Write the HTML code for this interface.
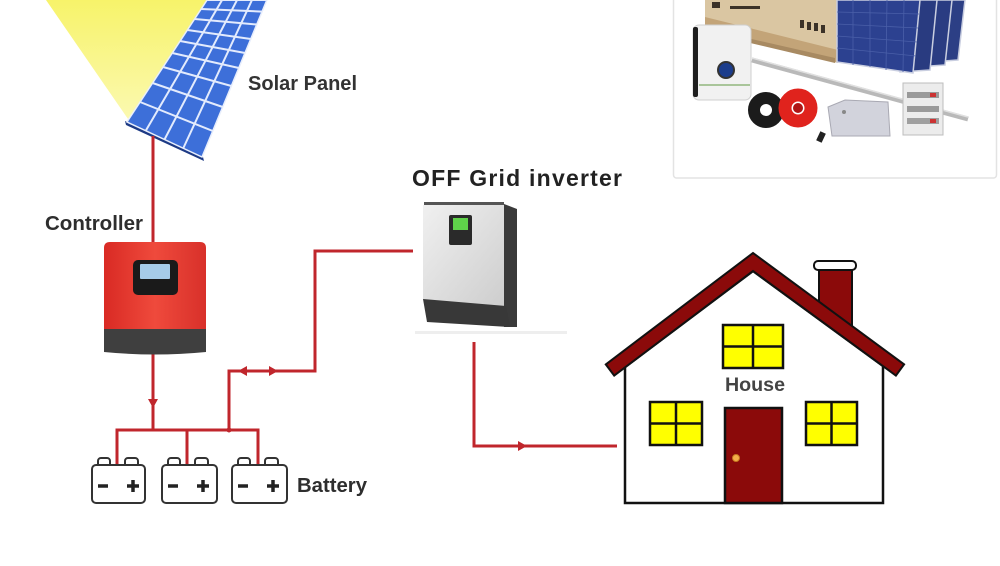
<!DOCTYPE html>
<html>
<head>
<meta charset="utf-8">
<style>
html,body{margin:0;padding:0;background:#fff;}
svg{display:block;}
text{font-family:"Liberation Sans",Arial,sans-serif;font-weight:bold;}
</style>
</head>
<body>
<svg width="1000" height="566" viewBox="0 0 1000 566" xmlns="http://www.w3.org/2000/svg">
<defs>
  <linearGradient id="beam" x1="0" y1="0" x2="0" y2="1">
    <stop offset="0" stop-color="#f7f36a"/>
    <stop offset="1" stop-color="#fbf9b0"/>
  </linearGradient>
  <linearGradient id="ctrl" x1="0" y1="0" x2="1" y2="0">
    <stop offset="0" stop-color="#d92a24"/>
    <stop offset="0.5" stop-color="#ef4a3c"/>
    <stop offset="1" stop-color="#d8302a"/>
  </linearGradient>
  <linearGradient id="inv" x1="0" y1="0" x2="1" y2="1">
    <stop offset="0" stop-color="#f0f0f0"/>
    <stop offset="1" stop-color="#cdcdcd"/>
  </linearGradient>
</defs>

<!-- sun rays -->
<g stroke="#f5ee70" stroke-width="2" opacity="0.8">
  <line x1="50" y1="0" x2="54" y2="6"/>
  <line x1="62" y1="0" x2="64" y2="5"/>
  <line x1="74" y1="0" x2="76" y2="6"/>
  <line x1="86" y1="0" x2="88" y2="4"/>
</g>
<!-- light beam -->
<polygon points="46,0 209,0 128,119" fill="url(#beam)"/>

<!-- solar panel -->
<polygon points="125,121 203,157 204,161 126,125" fill="#1d3a85"/>
<polygon points="127,122 202,157 271,-10 213,-9" fill="#3d6fd9" stroke="#e8eefc" stroke-width="1.5"/>
<g stroke="#e3ebfd" stroke-width="2">
  <line x1="145.75" y1="130.75" x2="227.5" y2="-9.25"/>
  <line x1="164.5" y1="139.5" x2="242" y2="-9.5"/>
  <line x1="183.25" y1="148.25" x2="256.5" y2="-9.75"/>
  <line x1="140.1" y1="102" x2="212.8" y2="131"/>
  <line x1="152.6" y1="83" x2="222.7" y2="107"/>
  <line x1="163.1" y1="67" x2="231.4" y2="86"/>
  <line x1="172.3" y1="53" x2="238.8" y2="68"/>
  <line x1="180.1" y1="41" x2="245.1" y2="53"/>
  <line x1="187.4" y1="30" x2="250.9" y2="39"/>
  <line x1="194.6" y1="19" x2="256.9" y2="24.5"/>
  <line x1="201.1" y1="9" x2="262.2" y2="11.6"/>
  <line x1="207" y1="0" x2="267" y2="0"/>
</g>
<text x="248" y="90" font-size="20" fill="#333" textLength="109" lengthAdjust="spacingAndGlyphs">Solar Panel</text>

<!-- top-right photo -->
<rect x="673.5" y="-10" width="323" height="188" rx="3" fill="#fff" stroke="#e3e3e3" stroke-width="1.5"/>
<polygon points="705,0 838,0 838,62 705,26" fill="#dac6a2"/>
<polygon points="705,17 838,50 838,63 705,29" fill="#c3a478"/>
<polygon points="712,30 835,58 835,63 712,34" fill="#a88a62"/>
<g fill="#3b3228">
  <rect x="800" y="20" width="4" height="8"/><rect x="807" y="22" width="4" height="8"/><rect x="814" y="23" width="4" height="8"/><rect x="821" y="25" width="4" height="8"/>
  <rect x="712" y="2" width="8" height="6"/><rect x="730" y="6" width="30" height="3"/>
</g>
<!-- photo panels -->
<polygon points="935,0 965,0 958,60 930,62" fill="#2c3f85" stroke="#c9cee0" stroke-width="1.5"/>
<polygon points="920,0 952,0 945,65 915,67" fill="#2a3c82" stroke="#c9cee0" stroke-width="1.5"/>
<polygon points="905,0 937,0 930,70 900,72" fill="#293b80" stroke="#c9cee0" stroke-width="1.5"/>
<polygon points="837,0 920,0 913,73 837,62" fill="#2c4190" stroke="#c9cee0" stroke-width="1.5"/>
<g stroke="#4a5fa8" stroke-width="0.8">
  <line x1="837" y1="12" x2="919" y2="14"/><line x1="837" y1="24" x2="918" y2="28"/><line x1="837" y1="36" x2="917" y2="42"/><line x1="837" y1="48" x2="916" y2="56"/>
  <line x1="853" y1="0" x2="853" y2="65"/><line x1="870" y1="0" x2="870" y2="67"/><line x1="887" y1="0" x2="886" y2="70"/><line x1="904" y1="0" x2="903" y2="72"/>
</g>
<!-- rail -->
<line x1="752" y1="60" x2="968" y2="119" stroke="#b9b9b9" stroke-width="5"/>
<line x1="752" y1="58" x2="968" y2="117" stroke="#e0e0e0" stroke-width="1.5"/>
<!-- photo inverter -->
<rect x="693" y="25" width="58" height="75" rx="6" fill="#f1f1f1" stroke="#cfcfcf"/>
<rect x="693" y="27" width="5" height="70" rx="2" fill="#1e1e1e"/>
<line x1="699" y1="85" x2="750" y2="85" stroke="#a9c59a" stroke-width="2"/>
<circle cx="726" cy="70" r="8" fill="#1c3d8c" stroke="#333" stroke-width="2"/>
<!-- cables -->
<circle cx="766" cy="110" r="12" fill="none" stroke="#1b1b1b" stroke-width="12"/>
<circle cx="798" cy="108" r="13" fill="none" stroke="#e0231d" stroke-width="13"/>
<circle cx="798" cy="108" r="5" fill="#b01515"/>
<rect x="818" y="132" width="6" height="10" fill="#222" transform="rotate(25 821 137)"/>
<!-- gray block -->
<polygon points="828,107 845,100 888,102 890,136 832,136" fill="#d2d3dc" stroke="#a9a9b3"/>
<circle cx="844" cy="112" r="2" fill="#888"/>
<!-- breaker box -->
<rect x="903" y="83" width="40" height="52" fill="#ececec" stroke="#bdbdbd"/>
<rect x="907" y="92" width="32" height="6" fill="#9a9a9a"/>
<rect x="907" y="106" width="32" height="6" fill="#9a9a9a"/>
<rect x="907" y="118" width="32" height="6" fill="#a0a0a0"/>
<rect x="930" y="93" width="6" height="4" fill="#c33"/>
<rect x="930" y="119" width="6" height="4" fill="#c33"/>

<!-- wires -->
<g stroke="#c0262c" stroke-width="3" fill="none" stroke-linejoin="miter">
  <line x1="153" y1="136" x2="153" y2="243"/>
  <line x1="153" y1="354" x2="153" y2="430"/>
  <polyline points="117,466 117,430 258,430 258,466"/>
  <line x1="187" y1="430" x2="187" y2="466"/>
  <polyline points="229,430 229,371 315,371 315,251 413,251"/>
  <polyline points="474,342 474,446 617,446"/>
</g>
<g fill="#c0262c">
  <polygon points="148,399 158,399 153,408"/>
  <polygon points="238,371 247,366 247,376"/>
  <polygon points="278,371 269,366 269,376"/>
  <polygon points="527,446 518,441 518,451"/>
  <circle cx="229" cy="430" r="2.5"/>
</g>

<!-- controller -->
<text x="45" y="230" font-size="20" fill="#2e2e2e" textLength="98" lengthAdjust="spacingAndGlyphs">Controller</text>
<path d="M104,248 Q104,242 110,242 L200,242 Q206,242 206,248 L206,330 L104,330 Z" fill="url(#ctrl)"/>
<path d="M104,329 L206,329 L206,352 Q155,357 104,352 Z" fill="#3f3f3f"/>
<rect x="133" y="260" width="45" height="35" rx="5" fill="#1a1a1a"/>
<rect x="140" y="264" width="30" height="15" rx="1" fill="#a6cbe8"/>

<!-- inverter -->
<text x="412" y="186" font-size="23" fill="#222" textLength="210" lengthAdjust="spacing">OFF Grid inverter</text>
<rect x="415" y="331" width="152" height="3" fill="#eeeeee"/>
<polygon points="423,205 506,205 506,307 423,300" fill="url(#inv)"/>
<rect x="424" y="202" width="80" height="3" fill="#555"/>
<polygon points="504,204 517,209 517,327 504,327" fill="#3a3a3a"/>
<polygon points="423,299 506,306 510,327 427,322" fill="#383838"/>
<rect x="449" y="215" width="23" height="30" rx="2" fill="#2a2a2a"/>
<rect x="453" y="218" width="15" height="12" fill="#5fd24a"/>

<!-- batteries -->
<g fill="#fff" stroke="#333" stroke-width="2">
  <rect x="98" y="458" width="12" height="9" rx="3"/>
  <rect x="125" y="458" width="13" height="9" rx="3"/>
  <rect x="168" y="458" width="12" height="9" rx="3"/>
  <rect x="195" y="458" width="13" height="9" rx="3"/>
  <rect x="238" y="458" width="12" height="9" rx="3"/>
  <rect x="265" y="458" width="13" height="9" rx="3"/>
  <rect x="92" y="465" width="53" height="38" rx="4"/>
  <rect x="162" y="465" width="55" height="38" rx="4"/>
  <rect x="232" y="465" width="55" height="38" rx="4"/>
</g>
<g stroke="#222" stroke-width="3.5">
  <line x1="98" y1="486" x2="108" y2="486"/>
  <line x1="127" y1="486" x2="139" y2="486"/><line x1="133" y1="480" x2="133" y2="492"/>
  <line x1="168" y1="486" x2="178" y2="486"/>
  <line x1="197" y1="486" x2="209" y2="486"/><line x1="203" y1="480" x2="203" y2="492"/>
  <line x1="238" y1="486" x2="248" y2="486"/>
  <line x1="267" y1="486" x2="279" y2="486"/><line x1="273" y1="480" x2="273" y2="492"/>
</g>
<text x="297" y="492" font-size="20" fill="#2e2e2e" textLength="70" lengthAdjust="spacingAndGlyphs">Battery</text>

<!-- house -->
<rect x="819" y="267" width="33" height="70" fill="#8b0a0a" stroke="#111" stroke-width="2"/>
<rect x="814" y="261" width="42" height="9" rx="4" fill="#fff" stroke="#111" stroke-width="2"/>
<polygon points="625,367 753,271 883,366 883,503 625,503" fill="#fff" stroke="#111" stroke-width="2.5"/>
<polygon points="605.8,364.4 753,253 904.1,364.4 895.9,375.6 753,271 614.2,375.6" fill="#8b0a0a" stroke="#111" stroke-width="2" stroke-linejoin="miter"/>
<g fill="#ffff00" stroke="#111" stroke-width="2.5">
  <rect x="723" y="325" width="60" height="43"/>
  <rect x="650" y="402" width="52" height="43"/>
  <rect x="806" y="402" width="51" height="43"/>
</g>
<g stroke="#111" stroke-width="2.5">
  <line x1="753" y1="325" x2="753" y2="368"/><line x1="723" y1="346.5" x2="783" y2="346.5"/>
  <line x1="676" y1="402" x2="676" y2="445"/><line x1="650" y1="423.5" x2="702" y2="423.5"/>
  <line x1="831.5" y1="402" x2="831.5" y2="445"/><line x1="806" y1="423.5" x2="857" y2="423.5"/>
</g>
<rect x="725" y="408" width="57" height="95" fill="#8b0a0a" stroke="#111" stroke-width="2.5"/>
<circle cx="736" cy="458" r="3.5" fill="#f3b04a" stroke="#c77a20" stroke-width="1"/>
<text x="725" y="391" font-size="19" fill="#444" textLength="60" lengthAdjust="spacingAndGlyphs">House</text>
</svg>
</body>
</html>
